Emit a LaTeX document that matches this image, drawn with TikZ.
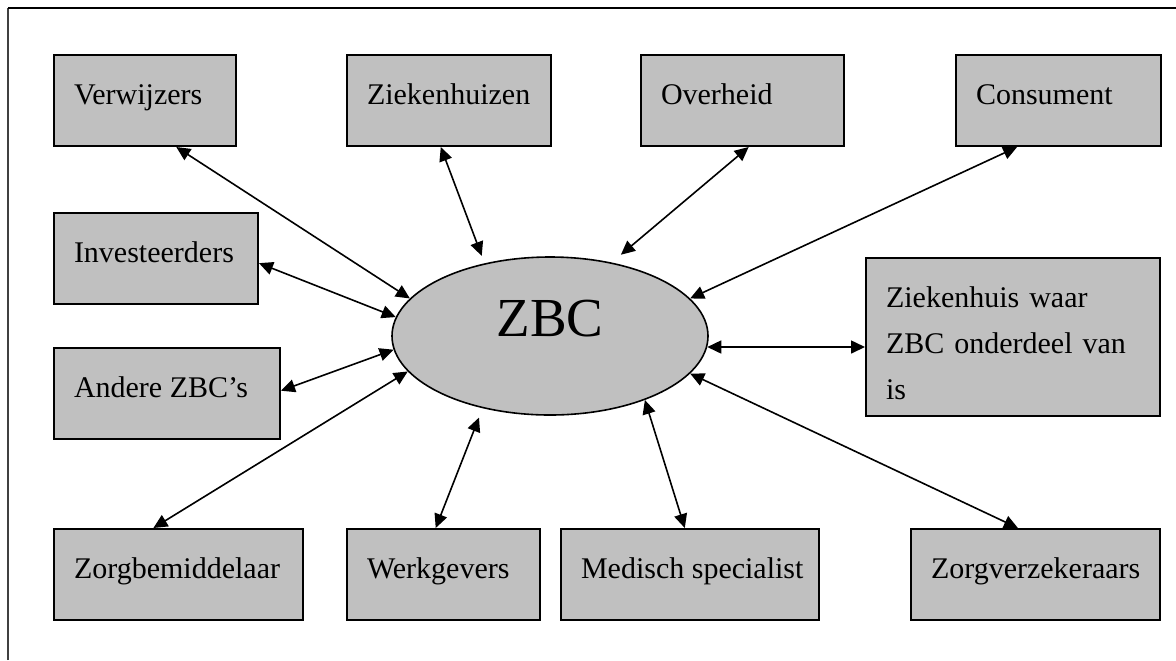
\documentclass[tikz,border=0pt]{standalone}
\usepackage{fontspec}
\setmainfont{Liberation Serif}
\usetikzlibrary{shapes.geometric,arrows.meta,calc}
\definecolor{boxgray}{RGB}{192,192,192}
\newcommand\boxlabel[2]{\makebox[#1][l]{#2}}
\begin{document}
\begin{tikzpicture}[x=0.5pt,y=-0.5pt,
  box/.style={draw=black, line width=1pt, fill=boxgray, anchor=north west,
    inner xsep=10pt, inner ysep=0pt, text height=10.5pt, text depth=7pt,
    minimum height=45.5pt, font=\fontsize{15pt}{23pt}\selectfont},
  conn/.style={{Triangle[length=7pt,width=6.5pt]}-{Triangle[length=7pt,width=6.5pt]}, line width=0.8pt}]
\useasboundingbox (0,0) rectangle (1176,660);
% frame (top and left edges)
\draw[black!75, line width=0.6pt] (8,660) -- (8,8);
\draw[black, line width=0.8pt] (8,8) -- (1176,8);

% centre
\node[ellipse, draw=black, line width=0.8pt, fill=boxgray, minimum width=158pt, minimum height=79pt,
  inner sep=0pt, text height=10pt, text depth=10pt, font=\fontsize{27.5pt}{30pt}\selectfont] (z) at (550,336) {ZBC};

% top row
\node[box] (v) at (53,54) {\boxlabel{71pt}{Verwijzers}};
\node[box] (zh) at (346,54) {\boxlabel{82pt}{Ziekenhuizen}};
\node[box] (ov) at (640,54) {\boxlabel{81.5pt}{Overheid}};
\node[box] (co) at (955,54) {\boxlabel{82.5pt}{Consument}};
% left side
\node[box] (inv) at (53,212) {\boxlabel{82pt}{Investeerders}};
\node[box] (az) at (53,347) {\boxlabel{93pt}{Andere ZBC’s}};
% right side
\node[box, align=left, text width=127pt, minimum height=79pt, text depth=40.5pt] (zw) at (865,257)
  {Ziekenhuis waar\\ZBC onderdeel van\\is};
% bottom row
\node[box] (zb) at (53,528) {\boxlabel{104.5pt}{Zorgbemiddelaar}};
\node[box] (wg) at (346,528) {\boxlabel{76.5pt}{Werkgevers}};
\node[box] (ms) at (560,528) {\boxlabel{109pt}{Medisch specialist}};
\node[box] (zv) at (910,528) {\boxlabel{104.5pt}{Zorgverzekeraars}};

% connectors
\draw[conn] ($(v.south west)!0.67!(v.south east)$) -- (z.165);
\draw[conn, shorten >=4pt] ($(zh.south west)!0.46!(zh.south east)$) -- (z.132.5);
\draw[conn, shorten >=6pt] ($(ov.south west)!0.53!(ov.south east)$) -- (z.50.5);
\draw[conn] ($(co.south west)!0.30!(co.south east)$) -- (z.15);
\draw[conn] ($(inv.north east)!0.55!(inv.south east)$) -- (z.173.6);
\draw[conn] ($(az.north east)!0.47!(az.south east)$) -- (z.185);
\draw[conn] (z.-4) -- (z.-4 -| zw.west);
\draw[conn] ($(zb.north west)!0.40!(zb.north east)$) -- (z.194.4);
\draw[conn, shorten >=5pt] ($(wg.north west)!0.46!(wg.north east)$) -- (z.227.7);
\draw[conn] ($(ms.north west)!0.48!(ms.north east)$) -- (z.326.7);
\draw[conn] ($(zv.north west)!0.43!(zv.north east)$) -- (z.345.4);
\end{tikzpicture}
\end{document}
